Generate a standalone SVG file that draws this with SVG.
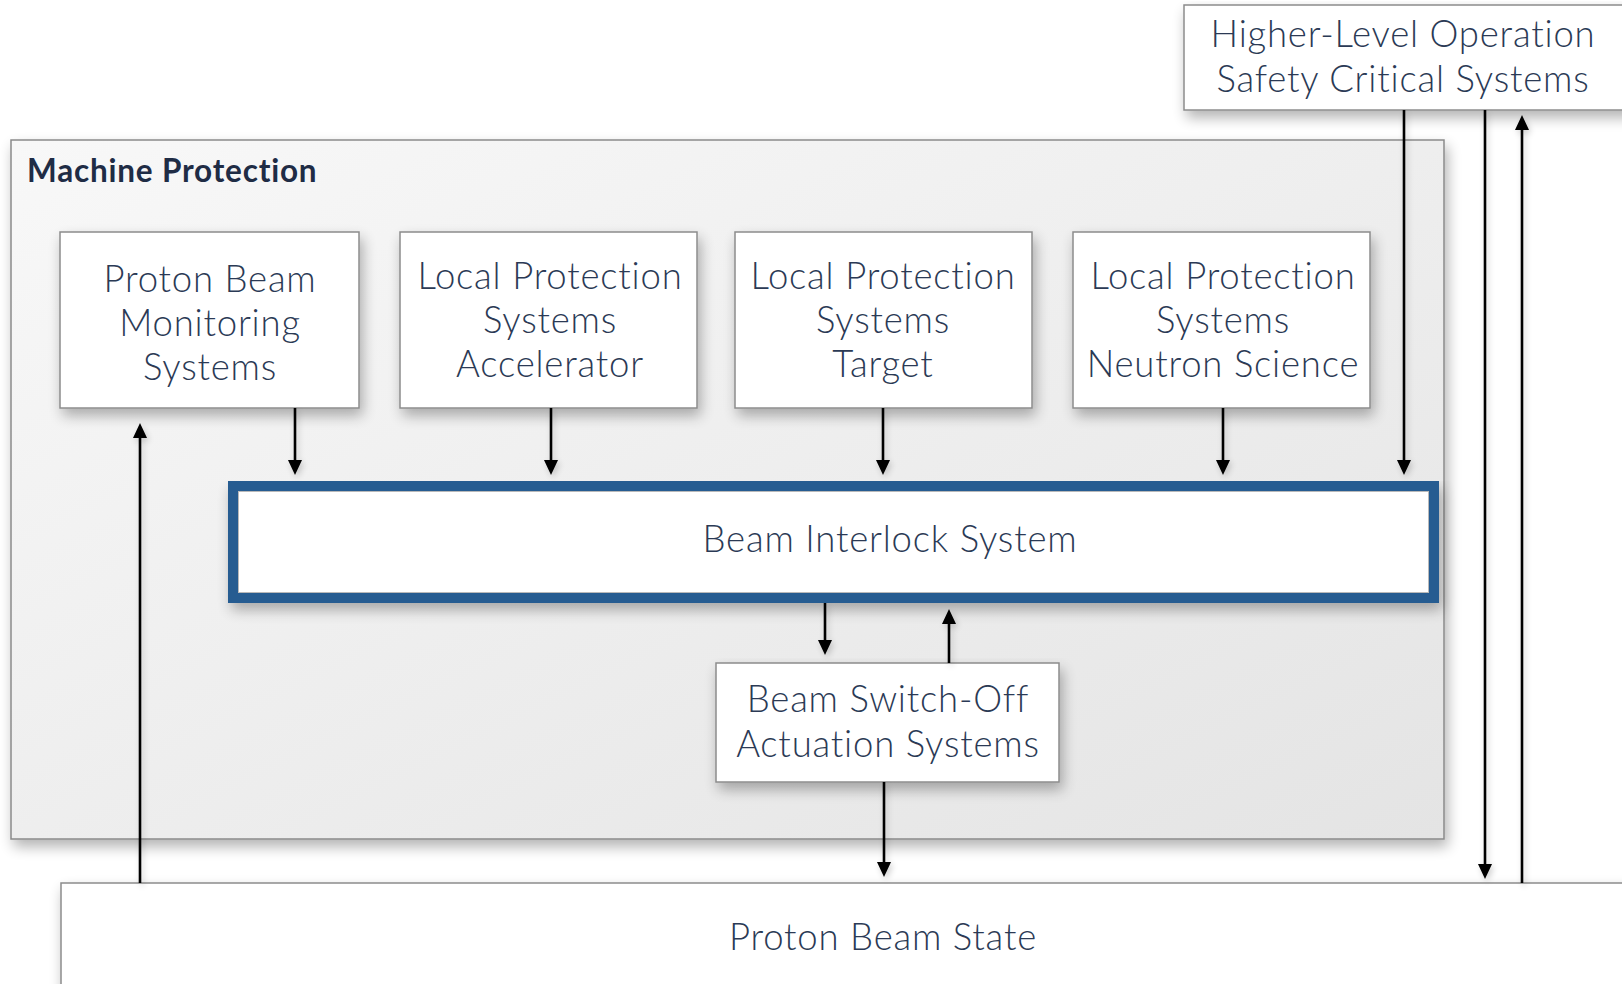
<svg xmlns="http://www.w3.org/2000/svg" width="1622" height="984" viewBox="0 0 1622 984">
  <style>
    .box { fill: #ffffff; stroke: #8c8c8c; stroke-width: 1.5; }
    .lbl { font-family: Lato, "Open Sans", "Liberation Sans", sans-serif; font-weight: 300; font-size: 36.5px; letter-spacing: 0.8px; fill: #2b3a55; text-anchor: middle; }
    .title { font-family: Lato, "Open Sans", "Liberation Sans", sans-serif; font-weight: 700; font-size: 31.5px; letter-spacing: 0.8px; fill: #1f2c45; }
    .wire { stroke: #000000; stroke-width: 2.6; fill: none; marker-end: url(#head); }
  </style>
  <defs>
    <linearGradient id="panelFill" x1="0" y1="0" x2="1" y2="1">
      <stop offset="0" stop-color="#f8f8f8"/>
      <stop offset="1" stop-color="#e4e4e4"/>
    </linearGradient>
    <filter id="shadow" x="-10%" y="-10%" width="125%" height="140%">
      <feGaussianBlur in="SourceAlpha" stdDeviation="7"/>
      <feOffset dx="3" dy="7" result="blur"/>
      <feComponentTransfer><feFuncA type="linear" slope="0.3"/></feComponentTransfer>
      <feMerge><feMergeNode/><feMergeNode in="SourceGraphic"/></feMerge>
    </filter>
    <filter id="wireShadow" x="-50%" y="-5%" width="300%" height="110%">
      <feGaussianBlur in="SourceAlpha" stdDeviation="3"/>
      <feOffset dx="2" dy="3"/>
      <feComponentTransfer><feFuncA type="linear" slope="0.2"/></feComponentTransfer>
      <feMerge><feMergeNode/><feMergeNode in="SourceGraphic"/></feMerge>
    </filter>
    <marker id="head" markerUnits="userSpaceOnUse" markerWidth="16" markerHeight="15" refX="5" refY="7" orient="auto">
      <path d="M0,0 L15,7 L0,14 Z" fill="#000000"/>
    </marker>
  </defs>

  <rect width="1622" height="984" fill="#ffffff"/>

  <!-- outer container -->
  <g id="machine-protection">
    <rect x="11" y="140" width="1433" height="699" fill="url(#panelFill)" stroke="#8a8a8a" stroke-width="1.5" filter="url(#shadow)"/>
    <text class="title" x="27" y="182">Machine Protection</text>
  </g>

  <g id="higher-level">
    <rect class="box" x="1184" y="5" width="460" height="105" filter="url(#shadow)"/>
    <text class="lbl" x="1403" y="47">Higher-Level Operation</text>
    <text class="lbl" x="1403" y="92">Safety Critical Systems</text>
  </g>

  <g id="proton-beam-state">
    <rect class="box" x="61" y="883" width="1600" height="200" filter="url(#shadow)"/>
    <text class="lbl" x="883" y="950">Proton Beam State</text>
  </g>

  <g id="proton-beam-monitoring">
    <rect class="box" x="60" y="232" width="299" height="176" filter="url(#shadow)"/>
    <text class="lbl" x="210" y="292">Proton Beam</text>
    <text class="lbl" x="210" y="336">Monitoring</text>
    <text class="lbl" x="210" y="380">Systems</text>
  </g>

  <g id="lps-accelerator">
    <rect class="box" x="400" y="232" width="297" height="176" filter="url(#shadow)"/>
    <text class="lbl" x="550" y="289">Local Protection</text>
    <text class="lbl" x="550" y="333">Systems</text>
    <text class="lbl" x="550" y="377">Accelerator</text>
  </g>

  <g id="lps-target">
    <rect class="box" x="735" y="232" width="297" height="176" filter="url(#shadow)"/>
    <text class="lbl" x="883" y="289">Local Protection</text>
    <text class="lbl" x="883" y="333">Systems</text>
    <text class="lbl" x="883" y="377">Target</text>
  </g>

  <g id="lps-neutron-science">
    <rect class="box" x="1073" y="232" width="297" height="176" filter="url(#shadow)"/>
    <text class="lbl" x="1223" y="289">Local Protection</text>
    <text class="lbl" x="1223" y="333">Systems</text>
    <text class="lbl" x="1223" y="377">Neutron Science</text>
  </g>

  <g id="beam-interlock-system">
    <rect x="233" y="486" width="1201" height="112" fill="#ffffff" stroke="#265c91" stroke-width="10" filter="url(#shadow)"/>
    <rect x="238.5" y="491.5" width="1190" height="101" fill="none" stroke="#b9b9b9" stroke-width="1"/>
    <text class="lbl" x="890" y="552">Beam Interlock System</text>
  </g>

  <g id="beam-switch-off">
    <rect class="box" x="716" y="663" width="343" height="119" filter="url(#shadow)"/>
    <text class="lbl" x="888" y="712">Beam Switch-Off</text>
    <text class="lbl" x="888" y="757">Actuation Systems</text>
  </g>

  <!-- signal paths; each line stops short so the head lands on the tip -->
  <g id="connectors" filter="url(#wireShadow)">
    <line class="wire" x1="140" y1="883" x2="140" y2="433"/>
    <line class="wire" x1="295" y1="408" x2="295" y2="465"/>
    <line class="wire" x1="551" y1="408" x2="551" y2="465"/>
    <line class="wire" x1="883" y1="408" x2="883" y2="465"/>
    <line class="wire" x1="1223" y1="408" x2="1223" y2="465"/>
    <line class="wire" x1="1404" y1="110" x2="1404" y2="465"/>
    <line class="wire" x1="1485" y1="110" x2="1485" y2="869"/>
    <line class="wire" x1="1522" y1="883" x2="1522" y2="125"/>
    <line class="wire" x1="825" y1="603" x2="825" y2="645"/>
    <line class="wire" x1="949" y1="663" x2="949" y2="619"/>
    <line class="wire" x1="884" y1="782" x2="884" y2="867"/>
  </g>
</svg>
